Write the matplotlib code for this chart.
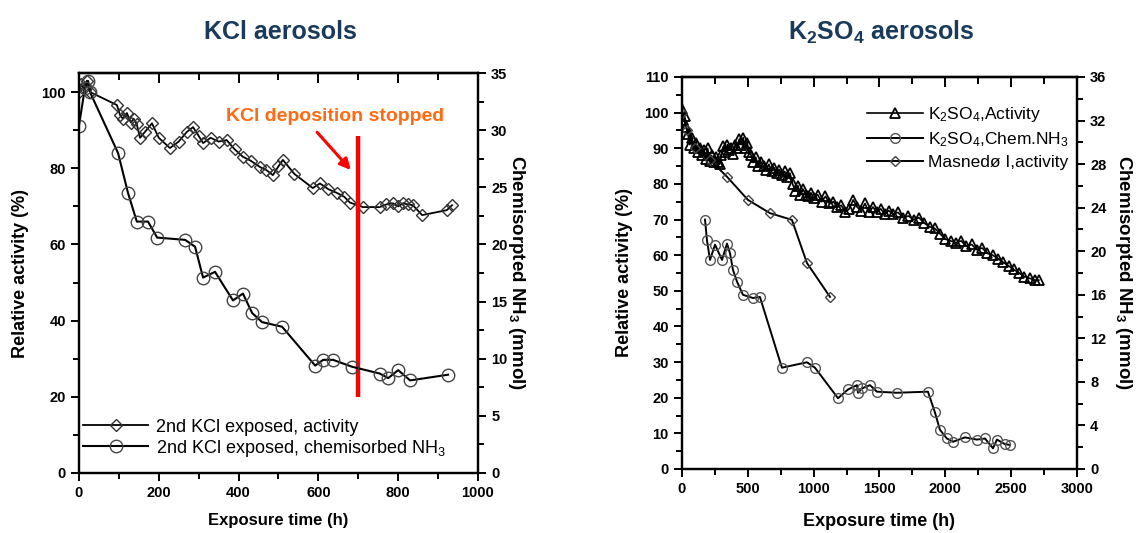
import matplotlib
matplotlib.use("Agg")
import matplotlib.pyplot as plt
from matplotlib.ticker import MultipleLocator

plt.rcParams['font.family'] = ['Liberation Sans', 'DejaVu Sans']
plt.rcParams['mathtext.default'] = 'regular'

title_color = '#1a3a5c'
orange = '#ff6a13'

# KCl aerosols: activity (%) and chemisorbed NH3 (mmol)
kcl_act_t = [0, 5, 12, 20, 28, 95, 103, 110, 120, 130, 137, 145, 153, 165, 183, 200, 228, 250, 270, 286,
             300, 311, 330, 350, 370, 390, 411, 430, 454, 470, 486, 500, 511, 540, 586, 604, 625, 647, 665, 679,
             712, 754, 770, 787, 800, 812, 825, 837, 860, 922, 935]
kcl_act = [100, 102, 101, 103, 100, 96.6, 94, 93, 94.5, 92, 93, 91.5, 88, 89.5, 91.8, 88, 85.3, 87, 89.5, 90.8,
           88.5, 86.6, 88, 87, 87.4, 85, 83, 82, 80.3, 79.5, 78.2, 80.5, 82.2, 78.5, 74.8, 76, 74.5, 73.5, 72.5, 71,
           69.8, 69.8, 70.5, 70.8, 70, 70.8, 70.5, 70.3, 67.7, 69, 70.3]
kcl_nh3_t = [0, 15, 23, 28, 98, 123, 145, 173, 196, 266, 291, 311, 341, 386, 411, 434, 459, 509, 592, 612,
             637, 684, 754, 775, 800, 830, 925]
kcl_nh3 = [30.4, 33.7, 34.3, 33.3, 28.0, 24.5, 22.0, 22.0, 20.6, 20.4, 19.8, 17.1, 17.6, 15.1, 15.7, 14.0, 13.2,
           12.8, 9.4, 9.9, 9.9, 9.3, 8.7, 8.3, 9.0, 8.1, 8.6]
deposition_stop = 700

# K2SO4 aerosols
k2so4_act_t = [0, 10, 20, 30, 45, 60, 75, 90, 105, 120,
               135, 150, 165, 180, 195, 210, 225, 240, 255, 270,
               285, 300, 315, 330, 345, 360, 375, 390, 405, 420,
               435, 450, 465, 480, 495, 510, 525, 540, 560, 580,
               600, 620, 640, 660, 680, 700, 720, 740, 760, 780,
               800, 820, 840, 860, 880, 900, 920, 940, 960, 980,
               1000, 1030, 1060, 1090, 1120, 1150, 1180, 1210, 1240, 1270,
               1300, 1330, 1360, 1390, 1420, 1450, 1480, 1510, 1540, 1570,
               1600, 1640, 1680, 1720, 1760, 1800, 1840, 1880, 1920, 1960,
               2000, 2040, 2080, 2120, 2160, 2200, 2240, 2280, 2320, 2360,
               2400, 2440, 2480, 2520, 2560, 2600, 2640, 2680, 2710]
k2so4_act = [101, 98, 99, 96, 94, 91, 93, 90, 91.5, 89,
             90, 88, 89.5, 87, 90, 86.5, 88, 86, 87.5, 86,
             85.5, 88, 90.5, 89, 91, 89.5, 90, 88.5, 91, 90,
             92.5, 91, 93, 90, 91.5, 89, 88, 86, 87.5, 85,
             86, 85, 84, 85.5, 83.5, 84.5, 83, 84, 82.5, 83.5,
             82, 83, 80, 78, 79.5, 77, 78.5, 77, 76.5, 77.5,
             76, 77, 75, 76.5, 74.5, 75, 73.5, 74, 72, 73,
             75.5, 73.5, 72.5, 74.5, 72, 73.5, 72, 73, 71.5, 72.5,
             71.5, 72, 70.5, 71, 70, 70.5, 69, 68, 67.5, 66,
             64.5, 64, 63.5, 64, 62.5, 63, 61.5, 62, 60.5, 60,
             59, 58, 57, 56, 55, 54, 53.5, 53, 53]
k2so4_nh3_t = [175, 190, 213, 251, 304, 342, 365, 387, 418, 463, 539, 592, 759, 949, 1010, 1185, 1261, 1329,
               1337, 1367, 1428, 1480, 1633, 1868, 1921, 1959, 2012, 2058, 2149, 2240, 2301, 2362, 2392, 2450, 2491]
k2so4_nh3 = [22.9, 21.0, 19.2, 20.6, 19.2, 20.7, 19.8, 18.3, 17.2, 16.0, 15.7, 15.8, 9.3, 9.8, 9.3, 6.5, 7.3, 7.7,
             7.0, 7.4, 7.7, 7.1, 7.0, 7.1, 5.2, 3.6, 2.8, 2.5, 2.9, 2.7, 2.8, 1.9, 2.7, 2.3, 2.2]
masnedo_t = [0, 40, 100, 213, 342, 501, 668, 835, 949, 1124]
masnedo_act = [100, 95, 90, 86.7, 82, 75.5, 71.8, 69.9, 57.8, 48.3]

fig = plt.figure(figsize=(11.41, 5.33), dpi=100)


def style_axes(ax, ax2, xmajor, xminor):
    for a in (ax, ax2):
        for s in a.spines.values():
            s.set_linewidth(1.6)
    ax.tick_params(axis='both', which='both', direction='out', width=1.4, labelsize=10.5)
    ax.tick_params(which='major', length=6)
    ax.tick_params(which='minor', length=4)
    ax2.tick_params(axis='y', which='both', direction='out', width=1.4, labelsize=10.5)
    ax2.tick_params(which='major', length=6)
    ax2.tick_params(which='minor', length=4)
    # inward ticks along the top edge
    top = ax.secondary_xaxis('top')
    top.xaxis.set_major_locator(MultipleLocator(xmajor))
    top.xaxis.set_minor_locator(MultipleLocator(xminor))
    top.tick_params(which='both', direction='in', width=1.4, labeltop=False)
    top.tick_params(which='major', length=7)
    top.tick_params(which='minor', length=5)
    top.spines['top'].set_linewidth(1.6)
    for lab in ax.get_xticklabels() + ax.get_yticklabels() + ax2.get_yticklabels():
        lab.set_fontweight('bold')


# ---- KCl panel ----
ax1 = fig.add_axes([0.0692, 0.1126, 0.3497, 0.7504])
ax1b = ax1.twinx()
ax1.set_xlim(0, 1000)
ax1.set_ylim(0, 105)
ax1b.set_ylim(0, 35)
ax1.xaxis.set_major_locator(MultipleLocator(200))
ax1.xaxis.set_minor_locator(MultipleLocator(100))
ax1.yaxis.set_major_locator(MultipleLocator(20))
ax1.yaxis.set_minor_locator(MultipleLocator(10))
ax1b.yaxis.set_major_locator(MultipleLocator(5))
ax1b.yaxis.set_minor_locator(MultipleLocator(2.5))

l1, = ax1.plot(kcl_act_t, kcl_act, '-', color='black', lw=1.3, marker='D', ms=6,
               mfc='none', mec='#333333', mew=1.0)
l2, = ax1b.plot(kcl_nh3_t, kcl_nh3, '-', color='black', lw=1.5, marker='o', ms=9,
                mfc='none', mec='#444444', mew=1.0)
ax1.vlines(deposition_stop, 20, 88.5, color='red', lw=3.2, zorder=5)
ax1.annotate('', xy=(686, 79), xytext=(592, 90),
             arrowprops=dict(arrowstyle='-|>', color='red', lw=2.2, mutation_scale=16))
ax1.text(642, 93.5, 'KCl deposition stopped', color=orange, fontsize=14, fontweight='bold',
         ha='center', va='center')
ax1.legend([l1, l2], ['2nd KCl exposed, activity', '2nd KCl exposed, chemisorbed NH$_3$'],
           loc='lower left', bbox_to_anchor=(-0.025, 0.0), frameon=False, fontsize=13,
           handlelength=3.6, borderpad=0.3, labelspacing=0.1, handletextpad=0.4)
ax1.set_xlabel('Exposure time (h)', fontsize=12, fontweight='bold', labelpad=9)
ax1.set_ylabel('Relative activity (%)', fontsize=13, fontweight='bold', labelpad=9)
ax1b.set_ylabel('Chemisorpted NH$_3$ (mmol)', fontsize=13.5, fontweight='bold', rotation=270, labelpad=14)
style_axes(ax1, ax1b, 200, 100)
fig.text(0.246, 0.94, 'KCl aerosols', color=title_color, fontsize=18, fontweight='bold',
         ha='center', va='center')

# ---- K2SO4 panel ----
ax2 = fig.add_axes([0.5977, 0.1201, 0.3462, 0.7355])
ax2b = ax2.twinx()
ax2.set_xlim(0, 3000)
ax2.set_ylim(0, 110)
ax2b.set_ylim(0, 36)
ax2.xaxis.set_major_locator(MultipleLocator(500))
ax2.xaxis.set_minor_locator(MultipleLocator(250))
ax2.yaxis.set_major_locator(MultipleLocator(10))
ax2.yaxis.set_minor_locator(MultipleLocator(5))
ax2b.yaxis.set_major_locator(MultipleLocator(4))
ax2b.yaxis.set_minor_locator(MultipleLocator(2))

m1, = ax2.plot(k2so4_act_t, k2so4_act, '-', color='black', lw=1.2, marker='^', ms=7.5,
               mfc='none', mec='black', mew=1.3)
m3, = ax2.plot(masnedo_t, masnedo_act, '-', color='black', lw=1.4, marker='D', ms=5.5,
               mfc='none', mec='#444444', mew=1.0)
m2, = ax2b.plot(k2so4_nh3_t, k2so4_nh3, '-', color='black', lw=1.4, marker='o', ms=7,
                mfc='none', mec='#555555', mew=1.0)
ax2.legend([m1, m2, m3], ['K$_2$SO$_4$,Activity', 'K$_2$SO$_4$,Chem.NH$_3$', 'Masnedø I,activity'],
           loc='upper right', bbox_to_anchor=(1.01, 0.96), frameon=False, fontsize=12.5,
           handlelength=3.2, borderpad=0.2, labelspacing=0.35, handletextpad=0.3)
ax2.set_xlabel('Exposure time (h)', fontsize=13, fontweight='bold', labelpad=12)
ax2.set_ylabel('Relative activity (%)', fontsize=13, fontweight='bold', labelpad=8)
ax2b.set_ylabel('Chemisorpted NH$_3$ (mmol)', fontsize=13.5, fontweight='bold', rotation=270, labelpad=20)
style_axes(ax2, ax2b, 500, 250)
fig.text(0.772, 0.94, 'K$_2$SO$_4$ aerosols', color=title_color, fontsize=18, fontweight='bold',
         ha='center', va='center')

fig.savefig('out.png', dpi=100)
